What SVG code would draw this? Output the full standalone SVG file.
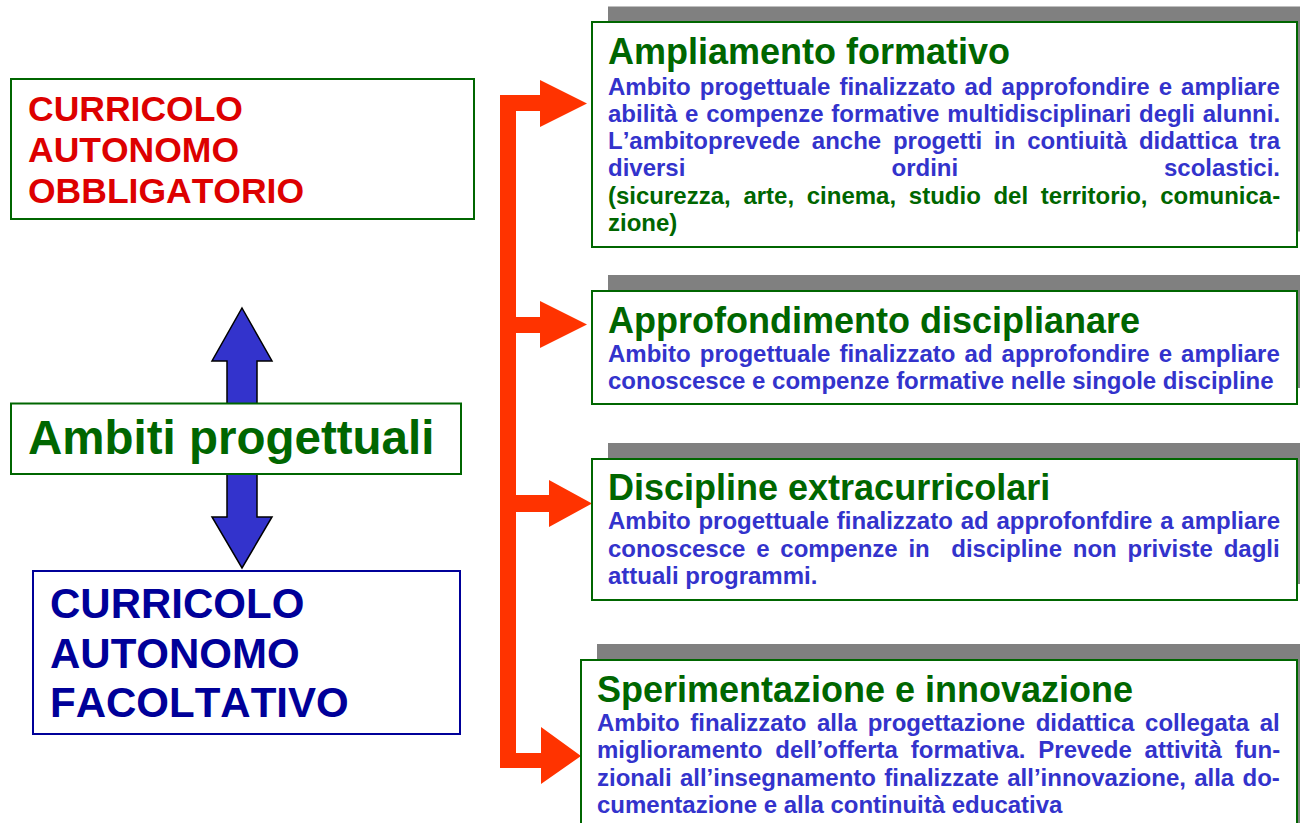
<svg xmlns="http://www.w3.org/2000/svg" width="1300" height="823" viewBox="0 0 1300 823">
<style>
text{font-family:"Liberation Sans",Arial,sans-serif;font-weight:bold;font-kerning:none}
.box{fill:#fff;stroke:#006600;stroke-width:2}
.bbox{fill:#fff;stroke:#000099;stroke-width:2}
.shadow{fill:#808080}
.red{fill:#DD0000;font-size:35.5px}
.navy{fill:#000099;font-size:42px}
.big{fill:#006600;font-size:47.5px}
.title{fill:#006600;font-size:36px}
.body{fill:#3333CC;font-size:24px}
.gbody{fill:#006600;font-size:24px}
</style>
<rect width="1300" height="823" fill="#fff"/>
<g id="connectors">
<path id="red-connector" d="M500,95 H540 V80 L587,103.5 L540,127 V111 H516 V317 H540 V301 L587,324.5 L540,348 V333 H516 V495 H549 V480 L592,503.5 L549,527 V512 H516 V753 H541 V727 L581,756 L541,784 V768 H500 Z" fill="#FF3300"/>
<polygon id="blue-double-arrow" points="242,308 272,361 257,361 257,517 272,517 242,568 212,517 227,517 227,361 212,361" fill="#3333CC" stroke="#000" stroke-width="1.5" stroke-linejoin="miter"/>
</g>
<g id="curricolo-obbligatorio">
<rect class="box" x="11" y="79" width="463" height="140"/>
<text class="red" x="28" y="121">CURRICOLO</text>
<text class="red" x="28" y="162">AUTONOMO</text>
<text class="red" x="28" y="203">OBBLIGATORIO</text>
</g>
<g id="ambiti-progettuali">
<rect class="box" x="11" y="403.5" width="450" height="70.5"/>
<text class="big" x="28" y="454">Ambiti progettuali</text>
</g>
<g id="curricolo-facoltativo">
<rect class="bbox" x="33" y="571" width="427" height="163"/>
<text class="navy" x="50" y="618.3">CURRICOLO</text>
<text class="navy" x="50" y="667.7">AUTONOMO</text>
<text class="navy" x="50" y="716.7">FACOLTATIVO</text>
</g>
<g id="ampliamento-formativo">
<rect class="shadow" x="608" y="6.5" width="705" height="225"/>
<rect class="box" x="592" y="22" width="705" height="225"/>
<text class="title" x="608" y="64.3">Ampliamento formativo</text>
<text class="body" x="608" y="94.5" word-spacing="2.4">Ambito progettuale finalizzato ad approfondire e ampliare</text>
<text class="body" x="608" y="121.8" word-spacing="1.1">abilità e compenze formative multidisciplinari degli alunni.</text>
<text class="body" x="608" y="149.1" word-spacing="5.1">L’ambitoprevede anche progetti in contiuità didattica tra</text>
<text class="body" x="608" y="176.4">diversi</text>
<text class="body" x="891.5" y="176.4">ordini</text>
<text class="body" x="1280" y="176.4" text-anchor="end">scolastici.</text>
<text class="gbody" x="608" y="203.7" word-spacing="6">(sicurezza, arte, cinema, studio del territorio, comunica-</text>
<text class="gbody" x="608" y="231">zione)</text>
</g>
<g id="approfondimento-disciplinare">
<rect class="shadow" x="608" y="275" width="705" height="113"/>
<rect class="box" x="592" y="291" width="705" height="113"/>
<text class="title" x="608" y="332.7">Approfondimento disciplianare</text>
<text class="body" x="608" y="361.7" word-spacing="2.4">Ambito progettuale finalizzato ad approfondire e ampliare</text>
<text class="body" x="608" y="389">conoscesce e compenze formative nelle singole discipline</text>
</g>
<g id="discipline-extracurricolari">
<rect class="shadow" x="608" y="443" width="705" height="141"/>
<rect class="box" x="592" y="459" width="705" height="141"/>
<text class="title" x="608" y="500">Discipline extracurricolari</text>
<text class="body" x="608" y="529.3" word-spacing="1.1">Ambito progettuale finalizzato ad approfonfdire a ampliare</text>
<text class="body" x="608" y="556.7" word-spacing="4.1" xml:space="preserve">conoscesce e compenze in  discipline non priviste dagli</text>
<text class="body" x="608" y="584">attuali programmi.</text>
</g>
<g id="sperimentazione-innovazione">
<rect class="shadow" x="597" y="644" width="716" height="200"/>
<rect class="box" x="581" y="660" width="716" height="200"/>
<text class="title" x="597" y="701.7">Sperimentazione e innovazione</text>
<text class="body" x="597" y="731" word-spacing="4">Ambito finalizzato alla progettazione didattica collegata al</text>
<text class="body" x="597" y="758.3" word-spacing="6.2">miglioramento dell’offerta formativa. Prevede attività fun-</text>
<text class="body" x="597" y="785.7" word-spacing="1.6">zionali all’insegnamento finalizzate all’innovazione, alla do-</text>
<text class="body" x="597" y="812.7">cumentazione e alla continuità educativa</text>
</g>
</svg>
